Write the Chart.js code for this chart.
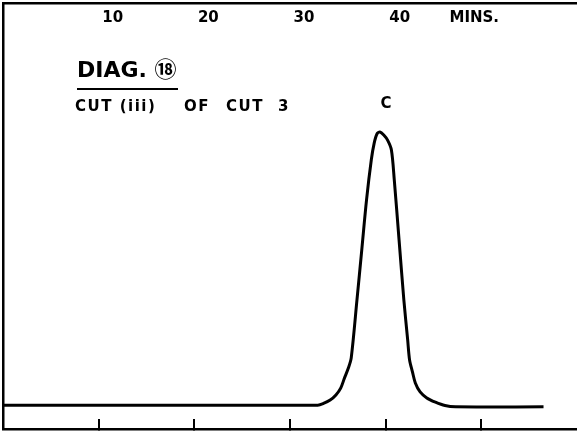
<!DOCTYPE html>
<html>
<head>
<meta charset="utf-8">
<script src="https://cdn.jsdelivr.net/npm/chart.js@4.4.1/dist/chart.umd.min.js"></script>
<style>
  html, body { margin: 0; padding: 0; background: #fff; }
  #marco { width: 577px; height: 433px; }
</style>
</head>
<body>
<div id="marco"><canvas id="graficaCorte"></canvas></div>
<script>
// Tiempo de elución (min) y respuesta del detector, corte (iii) del corte 3
const tiempos = [0.1, 32.9, 33.5, 34.2, 34.8, 35.3, 35.7, 36.1, 36.4, 37.0, 37.5, 38.0, 38.5,
                 38.8, 39.1, 39.4, 39.8, 40.2, 40.6, 40.9, 41.4, 41.9, 42.3, 42.5, 42.8, 43.1,
                 43.6, 44.3, 45.2, 46.2, 47.3, 56.5];
const respuesta = [5.6, 5.6, 6.0, 6.8, 8.0, 9.6, 12.0, 14.3, 16.7, 30.3, 42.0, 53.8, 63.2,
                   67.1, 69.3, 69.7, 69.0, 67.8, 65.5, 58.5, 44.4, 30.3, 20.9, 16.2, 13.4, 10.8,
                   8.7, 7.3, 6.3, 5.5, 5.2, 5.2];

// Escala de tiempo arriba y marcas abajo
const marcasArriba = [10, 20, 30, 40, 47.8];
const etiquetasArriba = ['10', '20', '30', '40', 'MINS.'];
const marcasAbajo = [10, 20, 30, 40, 50];
const nombrePico = 'C';

document.addEventListener('DOMContentLoaded', () => {
    dibujarCromatograma();
});

// Rótulos escritos a mano dentro del área
const rotulos = {
    id: 'rotulos',
    afterDatasetsDraw(chart) {
        const { ctx, chartArea, scales: { x, y } } = chart;
        const izq = chartArea.left;
        ctx.save();
        ctx.fillStyle = '#000';
        ctx.strokeStyle = '#000';
        ctx.textBaseline = 'alphabetic';

        ctx.font = 'bold 22px "DejaVu Sans", "Noto Sans CJK JP"';
        ctx.fillText('DIAG. ⑱', izq + 74, 77);

        ctx.lineWidth = 2;
        ctx.beginPath();
        ctx.moveTo(izq + 74, 89);
        ctx.lineTo(izq + 175, 89);
        ctx.stroke();

        ctx.font = 'bold 15px "DejaVu Sans"';
        ctx.letterSpacing = '1.5px';
        ctx.fillText('CUT (iii)', izq + 72, 111);
        ctx.fillText('OF', izq + 181, 111);
        ctx.fillText('CUT', izq + 223, 111);
        ctx.fillText('3', izq + 275, 111);

        // letra del pico, sobre el máximo de la curva
        const iMax = respuesta.indexOf(Math.max(...respuesta));
        ctx.textAlign = 'center';
        ctx.letterSpacing = '0px';
        ctx.fillText(nombrePico, x.getPixelForValue(tiempos[iMax]) + 6, y.getPixelForValue(respuesta[iMax]) - 24);
        ctx.restore();
    }
};

function dibujarCromatograma() {
    const ctx = document.getElementById('graficaCorte').getContext('2d');
    new Chart(ctx, {
        type: 'line',
        data: {
            datasets: [{
                data: tiempos.map((t, i) => ({ x: t, y: respuesta[i] })),
                borderColor: '#000',
                borderWidth: 3,
                pointRadius: 0,
                fill: false,
                tension: 0.3,
                xAxisID: 'x',
                yAxisID: 'y'
            }]
        },
        options: {
            responsive: true,
            maintainAspectRatio: false,
            animation: false,
            layout: { padding: { left: 0, right: 0, top: 0, bottom: 1 } },
            plugins: { legend: { display: false }, tooltip: { enabled: false } },
            scales: {
                x: {
                    type: 'linear', position: 'bottom', min: 0, max: 60,
                    afterBuildTicks: s => { s.ticks = marcasAbajo.map(v => ({ value: v })); },
                    afterFit: s => { s.height = 3; },
                    ticks: { display: false },
                    // marcas cortas hacia adentro
                    grid: { drawOnChartArea: false, drawTicks: true, tickLength: -10, color: '#000', lineWidth: 2 },
                    border: { display: true, color: '#000', width: 2.5 }
                },
                x2: {
                    type: 'linear', position: 'top', min: 0, max: 60,
                    afterBuildTicks: s => { s.ticks = marcasArriba.map(v => ({ value: v })); },
                    afterFit: s => { s.height = 3; },
                    ticks: {
                        autoSkip: false, maxRotation: 0, mirror: true, padding: 6, labelOffset: 14,
                        color: '#000', font: { family: 'DejaVu Sans', size: 15, weight: 'bold' },
                        callback: (v, i) => etiquetasArriba[i]
                    },
                    grid: { display: false },
                    border: { display: true, color: '#000', width: 2.5 }
                },
                y: {
                    position: 'left', min: 0, max: 100,
                    afterFit: s => { s.width = 3; },
                    ticks: { display: false },
                    grid: { display: false },
                    border: { display: true, color: '#000', width: 2.5 }
                }
            }
        },
        plugins: [rotulos]
    });
}
</script>
</body>
</html>
